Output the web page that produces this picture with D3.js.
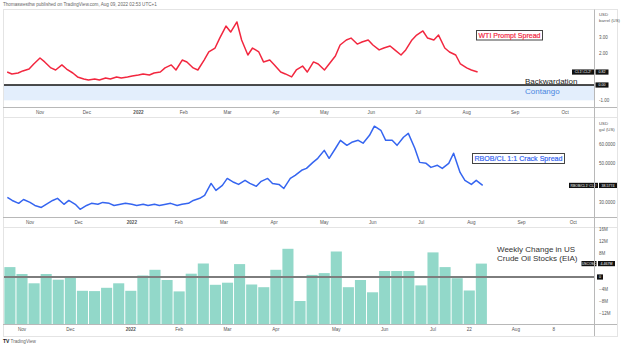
<!DOCTYPE html>
<html>
<head>
<meta charset="utf-8">
<script src="https://cdn.jsdelivr.net/npm/d3@7/dist/d3.min.js"></script>
<style>
  html, body { margin: 0; padding: 0; background: #fff; }
  svg { display: block; font-family: "Liberation Sans", Arial, sans-serif; }
</style>
</head>
<body>
<div id="chart"></div>
<script>
// ---------------- data ----------------
var days = ["2021-10-11","2021-10-14","2021-10-18","2021-10-21","2021-10-25","2021-10-28",
  "2021-11-01","2021-11-04","2021-11-08","2021-11-11","2021-11-15","2021-11-18","2021-11-22","2021-11-25","2021-11-29",
  "2021-12-02","2021-12-06","2021-12-09","2021-12-13","2021-12-16","2021-12-20","2021-12-23","2021-12-27","2021-12-30",
  "2022-01-03","2022-01-06","2022-01-10","2022-01-13","2022-01-17","2022-01-20","2022-01-24","2022-01-27","2022-01-31",
  "2022-02-03","2022-02-07","2022-02-10","2022-02-14","2022-02-17","2022-02-21","2022-02-24","2022-02-28",
  "2022-03-03","2022-03-07","2022-03-10","2022-03-14","2022-03-17","2022-03-21","2022-03-24","2022-03-28","2022-03-31",
  "2022-04-04","2022-04-07","2022-04-11","2022-04-14","2022-04-18","2022-04-21","2022-04-25","2022-04-28",
  "2022-05-02","2022-05-05","2022-05-09","2022-05-12","2022-05-16","2022-05-19","2022-05-23","2022-05-26","2022-05-30",
  "2022-06-02","2022-06-06","2022-06-09","2022-06-13","2022-06-16","2022-06-20","2022-06-23","2022-06-27","2022-06-30",
  "2022-07-04","2022-07-07","2022-07-11","2022-07-14","2022-07-18","2022-07-21","2022-07-25","2022-07-28",
  "2022-08-01","2022-08-04","2022-08-08"];

// CL1!-CL2!, USD/barrel
var promptSpread = [0.82,0.70,0.76,0.89,1.01,1.33,
  1.71,1.46,1.08,0.95,1.27,1.01,0.76,0.51,0.38,
  0.32,0.38,0.32,0.44,0.38,0.51,0.44,0.51,0.57,
  0.63,0.70,0.63,0.76,0.82,1.08,1.27,0.95,1.58,
  1.46,1.08,0.95,1.58,2.09,2.34,2.97,3.73,
  3.35,3.99,2.85,1.90,2.34,2.09,1.46,1.58,1.27,
  0.82,0.70,0.51,0.95,1.20,0.82,1.46,1.33,
  0.95,1.33,1.84,2.53,2.85,2.97,2.59,2.72,2.85,
  2.53,2.22,2.34,2.47,2.22,1.90,2.22,2.85,3.16,
  3.42,2.97,2.85,3.16,2.34,2.09,1.90,1.33,
  1.08,0.95,0.82];

// RBOB/CL 1:1 crack
var crackSpread = [null,null,32.4,30.8,29.3,31.3,
  29.8,28.2,27.2,28.8,30.8,31.9,28.8,30.8,28.8,
  26.2,28.2,29.3,28.8,29.8,29.3,28.2,28.8,29.3,
  28.8,28.2,28.8,28.2,28.8,28.2,28.8,29.3,28.2,
  28.8,29.3,30.8,31.9,33.4,39.6,36.0,38.6,
  42.2,40.2,39.1,41.2,39.6,38.1,40.7,42.2,39.6,
  39.1,37.0,42.2,43.8,46.4,47.4,50.5,52.6,
  56.7,52.6,57.8,61.9,59.3,60.9,61.9,60.4,64.5,
  69.2,67.1,61.9,61.9,59.3,63.5,65.5,57.8,50.5,
  50.0,47.9,49.0,47.4,50.0,55.2,45.3,41.2,
  39.1,41.2,38.58];

var weeks = ["2021-10-29","2021-11-05","2021-11-12","2021-11-19","2021-11-26",
  "2021-12-03","2021-12-10","2021-12-17","2021-12-24","2021-12-31",
  "2022-01-07","2022-01-14","2022-01-21","2022-01-28",
  "2022-02-04","2022-02-11","2022-02-18","2022-02-25",
  "2022-03-04","2022-03-11","2022-03-18","2022-03-25",
  "2022-04-01","2022-04-08","2022-04-15","2022-04-22","2022-04-29",
  "2022-05-06","2022-05-13","2022-05-20","2022-05-27",
  "2022-06-03","2022-06-10","2022-06-17","2022-06-24",
  "2022-07-01","2022-07-08","2022-07-15","2022-07-22","2022-07-29"];

// weekly change, millions of barrels
var stockChange = [3.3,1.0,-2.1,1.0,-0.9,
  -0.2,-4.6,-4.7,-3.6,-2.1,
  -4.6,0.5,2.4,-1.0,
  -4.8,1.1,4.5,-2.6,
  -1.9,4.3,-2.5,-3.4,
  2.4,9.4,-8.0,0.7,1.3,
  8.5,-3.4,-1.0,-5.1,
  2.0,2.0,2.0,-2.8,
  8.2,3.3,-0.4,-4.5,4.467];

var monthTicks = ["2021-11-01","2021-12-01","2022-01-03","2022-02-01","2022-03-01","2022-04-01",
  "2022-05-02","2022-06-01","2022-07-01","2022-08-01","2022-09-01","2022-10-03"];
var monthLabels = ["Nov","Dec","2022","Feb","Mar","Apr","May","Jun","Jul","Aug","Sep","Oct"];
var weekTicks = ["2021-11-05","2021-12-03","2022-01-07","2022-02-04","2022-03-04","2022-04-01",
  "2022-05-06","2022-06-03","2022-07-01","2022-07-22","2022-08-18","2022-09-09"];
var weekLabels = ["Nov","Dec","2022","Feb","Mar","Apr","May","Jun","Jul","22","Aug","8"];

var spreadTicks = [3, 2, -1];
var crackTicks = [60, 50, 30];
var stockTicks = [16, 12, 8, -4, -8, -12];

// ---------------- layout ----------------
var width = 624, height = 346;
var left = 3, axisX = 594.5, frameR = 617;
var parse = d3.timeParse("%Y-%m-%d");

var svg = d3.select("#chart").append("svg")
    .attr("width", width)
    .attr("height", height);

svg.append("rect").attr("width", width).attr("height", height).attr("fill", "#fff");

svg.append("text")
    .attr("x", 3).attr("y", 6)
    .attr("font-size", "4.6px")
    .attr("fill", "#666")
    .text("Thomaswesthw published on TradingView.com, Aug 09, 2022 02:53 UTC+1");

// frame
svg.append("rect")
    .attr("x", left + 0.5).attr("y", 9.5)
    .attr("width", frameR - left).attr("height", 327)
    .attr("fill", "none").attr("stroke", "#e4e4e4");

function timeAxis(scale, y, ticks, labels) {
    var g = svg.append("g");
    g.append("line")
        .attr("x1", left).attr("x2", frameR)
        .attr("y1", y + 0.5).attr("y2", y + 0.5)
        .attr("stroke", "#b8b8b8");
    g.selectAll("text").data(ticks).enter().append("text")
        .attr("x", function(d) { return scale(parse(d)); })
        .attr("y", y + 6.5)
        .attr("font-size", "4.6px")
        .attr("font-weight", function(d, i) { return labels[i] == "2022" ? "bold" : "normal"; })
        .attr("fill", "#555")
        .style("text-anchor", "middle")
        .text(function(d, i) { return labels[i]; });
}

function priceLabels(scale, ticks, fmt) {
    svg.append("g").selectAll("text").data(ticks).enter().append("text")
        .attr("x", 599)
        .attr("y", function(d) { return scale(d) + 1.6; })
        .attr("font-size", "4.5px")
        .attr("fill", "#555")
        .text(fmt);
}

// black price tag, text kept inside its box
function tag(x, y, w, txt, fs) {
    svg.append("rect")
        .attr("x", x).attr("y", y - 2.6)
        .attr("width", w).attr("height", 5.2)
        .attr("fill", "#111");
    svg.append("text")
        .attr("x", x + w / 2).attr("y", y + 1.3)
        .attr("font-size", (fs || 3.6) + "px")
        .attr("fill", "#fff")
        .style("text-anchor", "middle")
        .text(txt);
}

function legendBox(x, y, w, h, txt, color) {
    svg.append("rect")
        .attr("x", x + 0.5).attr("y", y + 0.5)
        .attr("width", w).attr("height", h)
        .attr("fill", "#fff").attr("stroke", "#444");
    svg.append("text")
        .attr("x", x + 2.5).attr("y", y + h - 1.6)
        .attr("font-size", "7.4px")
        .attr("fill", color)
        .attr("stroke", color)
        .attr("stroke-width", 0.2)
        .attr("textLength", w - 4)
        .attr("lengthAdjust", "spacingAndGlyphs")
        .text(txt);
}

// ---------------- panel 1 : WTI prompt spread ----------------
var x1 = d3.scaleTime()
    .domain([parse("2021-11-01"), parse("2022-10-01")])
    .range([40, 562]);
var y1 = d3.scaleLinear().domain([0, 4]).range([85, 21.8]);

svg.append("rect")
    .attr("x", left + 1).attr("y", y1(0))
    .attr("width", axisX - left - 1).attr("height", y1(-0.97) - y1(0))
    .attr("fill", "#e3eefc");
svg.append("line")
    .attr("x1", left + 1).attr("x2", axisX)
    .attr("y1", y1(0)).attr("y2", y1(0))
    .attr("stroke", "#111").attr("stroke-width", 1.4);

svg.append("path")
    .datum(days.map(function(d, i) { return { date: parse(d), v: promptSpread[i] }; }))
    .attr("fill", "none")
    .attr("stroke", "#f2273f")
    .attr("stroke-width", 1.5)
    .attr("stroke-linejoin", "round")
    .attr("d", d3.line()
        .x(function(d) { return x1(d.date); })
        .y(function(d) { return y1(d.v); }));

legendBox(476, 30, 66, 9.5, "WTI Prompt Spread", "#f2273f");
svg.append("text").attr("x", 525).attr("y", 84)
    .attr("font-size", "8px").attr("fill", "#222").text("Backwardation");
svg.append("text").attr("x", 525).attr("y", 94)
    .attr("font-size", "8px").attr("fill", "#4a86e0").text("Contango");

svg.append("text").attr("x", 599).attr("y", 15.5).attr("font-size", "4.3px").attr("fill", "#555").text("USD");
svg.append("text").attr("x", 599).attr("y", 21.5).attr("font-size", "4.3px").attr("fill", "#555").text("barrel (US)");
priceLabels(y1, spreadTicks, function(d) { return d.toFixed(2); });
var lastSpread = promptSpread[promptSpread.length - 1];
tag(572, y1(lastSpread), 22, "CL1!-CL2!");
tag(595.5, y1(lastSpread), 13, lastSpread.toFixed(2));
tag(595.5, y1(0), 13, "0.00");
timeAxis(x1, 107, monthTicks, monthLabels);

// ---------------- panel 2 : RBOB/CL crack ----------------
var x2 = d3.scaleTime()
    .domain([parse("2021-11-01"), parse("2022-10-01")])
    .range([30, 570]);
var y2 = d3.scaleLinear().domain([30, 60]).range([202, 144]);

svg.append("line")
    .attr("x1", left).attr("x2", frameR)
    .attr("y1", 117.5).attr("y2", 117.5)
    .attr("stroke", "#e4e4e4");

svg.append("path")
    .datum(days.map(function(d, i) { return { date: parse(d), v: crackSpread[i] }; }))
    .attr("fill", "none")
    .attr("stroke", "#3565f0")
    .attr("stroke-width", 1.5)
    .attr("stroke-linejoin", "round")
    .attr("d", d3.line()
        .defined(function(d) { return d.v != null; })
        .x(function(d) { return x2(d.date); })
        .y(function(d) { return y2(d.v); }));

legendBox(472, 153, 92, 10, "RBOB/CL 1:1 Crack Spread", "#3565f0");
svg.append("text").attr("x", 599).attr("y", 124.5).attr("font-size", "4.3px").attr("fill", "#555").text("USD");
svg.append("text").attr("x", 599).attr("y", 130.5).attr("font-size", "4.3px").attr("fill", "#555").text("gal (US)");
priceLabels(y2, crackTicks, function(d) { return d.toFixed(4); });
var lastCrack = crackSpread[crackSpread.length - 1];
tag(569, y2(lastCrack), 29, "RBOB/CL1! CL1!", 3.4);
tag(599, y2(lastCrack), 18, "38.5774");
timeAxis(x2, 217, monthTicks, monthLabels);

// ---------------- panel 3 : weekly stock change ----------------
var x3 = d3.scaleTime()
    .domain([parse("2021-11-05"), parse("2022-07-01")])
    .range([22, 433]);
var y3 = d3.scaleLinear().domain([0, 12]).range([277, 241]);
var bw = x3(parse("2021-11-12")) - x3(parse("2021-11-05"));
var plotBottom = 324;

svg.append("line")
    .attr("x1", left).attr("x2", frameR)
    .attr("y1", 227.5).attr("y2", 227.5)
    .attr("stroke", "#e4e4e4");

function barLeft(d) { return Math.max(left + 1, x3(d.date) - bw / 2 + 0.5); }

svg.append("g").selectAll("rect")
    .data(weeks.map(function(d, i) { return { date: parse(d), v: stockChange[i] }; }))
    .enter().append("rect")
    .attr("x", barLeft)
    .attr("y", function(d) { return y3(d.v); })
    .attr("width", function(d) { return x3(d.date) + bw / 2 - 0.5 - barLeft(d); })
    .attr("height", function(d) { return plotBottom - y3(d.v); })
    .attr("fill", "#92d8c9");

svg.append("line")
    .attr("x1", left + 1).attr("x2", axisX)
    .attr("y1", y3(0)).attr("y2", y3(0))
    .attr("stroke", "#7d7d7d").attr("stroke-width", 1.8);

svg.append("text").attr("x", 497).attr("y", 252)
    .attr("font-size", "8px").attr("fill", "#333").text("Weekly Change in US");
svg.append("text").attr("x", 497).attr("y", 261)
    .attr("font-size", "8px").attr("fill", "#333").text("Crude Oil Stocks (EIA)");

priceLabels(y3, stockTicks, function(d) { return (d < 0 ? "\u2212" + (-d) : d) + "M"; });
var lastStock = stockChange[stockChange.length - 1];
tag(581.5, y3(lastStock), 15, "USCOSC", 3.3);
tag(598, y3(lastStock), 17, lastStock.toFixed(3) + "M");
tag(597, y3(0), 6, "0");
timeAxis(x3, 324, weekTicks, weekLabels);

// right price axis separator
svg.append("line")
    .attr("x1", axisX).attr("x2", axisX)
    .attr("y1", 9.5).attr("y2", 336)
    .attr("stroke", "#b8b8b8");

// footer
svg.append("text").attr("x", 3).attr("y", 343)
    .attr("font-size", "5px").attr("font-weight", "bold").attr("fill", "#131722").text("TV");
svg.append("text").attr("x", 10.5).attr("y", 343)
    .attr("font-size", "4.6px").attr("fill", "#666").text("TradingView");
</script>
</body>
</html>
